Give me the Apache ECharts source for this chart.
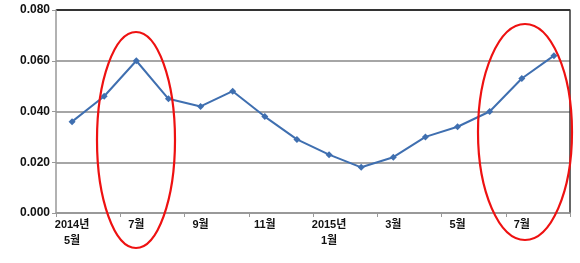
<!DOCTYPE html>
<html><head><meta charset="utf-8">
<script src="https://cdn.jsdelivr.net/npm/echarts@6/dist/echarts.min.js"></script>
<style>html,body{margin:0;padding:0;background:#fff}#c{width:580px;height:263px}</style>
</head><body><div id="c"></div>
<script>
const categories = ['2014년\n5월','6월','7월','8월','9월','10월','11월','12월','2015년\n1월','2월','3월','4월','5월','6월','7월','8월'];
const values = [0.036,0.046,0.060,0.045,0.042,0.048,0.038,0.029,0.023,0.018,0.022,0.030,0.034,0.040,0.053,0.062];
const yTicks = [0, 0.02, 0.04, 0.06, 0.08];

const font = '"Liberation Sans", Arial, "Noto Sans CJK KR", sans-serif';
const chart = echarts.init(document.getElementById('c'), null, {renderer:'canvas'});
chart.setOption({
  animation:false,
  backgroundColor:'#fff',
  grid:{left:56,right:10,top:10,bottom:50},
  xAxis:{
    type:'category', data:categories, boundaryGap:true,
    axisLine:{lineStyle:{color:'#999',width:1.5}},
    axisTick:{show:true,length:4,lineStyle:{color:'#999'}},
    axisLabel:{interval:1,color:'#111',fontWeight:'bold',fontSize:11,fontFamily:font,margin:4,lineHeight:16}
  },
  yAxis:[{
    type:'value', min:yTicks[0], max:yTicks[yTicks.length-1], interval:0.02,
    axisLine:{show:true,lineStyle:{color:'#999',width:1.5}},
    axisTick:{show:true,length:4,lineStyle:{color:'#999'}},
    axisLabel:{color:'#111',fontWeight:'bold',fontSize:12,fontFamily:font,margin:6,formatter:v=>v.toFixed(3)},
    splitLine:{show:true,lineStyle:{color:['#999','#a6a6a6','#a6a6a6','#a6a6a6','#333'],width:2}}
  },{
    type:'value', position:'right', min:yTicks[0], max:yTicks[yTicks.length-1], interval:0.02,
    axisLine:{show:true,lineStyle:{color:'#333',width:1.5}},
    axisTick:{show:false}, axisLabel:{show:false}, splitLine:{show:false}
  }],
  series:[{
    type:'line', data:values, yAxisIndex:0,
    symbol:'diamond', symbolSize:7,
    lineStyle:{color:'#3f6fb0',width:2},
    itemStyle:{color:'#3f6fb0'}
  }],
  graphic:[
    {type:'ellipse', shape:{cx:136,cy:140,rx:39,ry:108}, style:{fill:null,stroke:'#ee1111',lineWidth:2.2}, z:100},
    {type:'ellipse', shape:{cx:525,cy:132,rx:47,ry:108}, style:{fill:null,stroke:'#ee1111',lineWidth:2.2}, z:100}
  ]
});
</script></body></html>
